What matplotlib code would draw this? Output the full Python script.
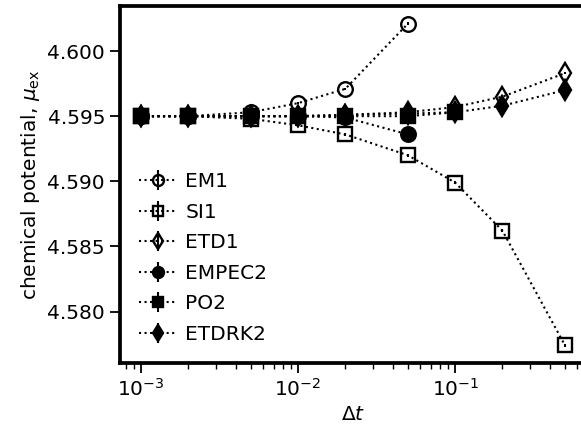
import matplotlib
matplotlib.use('Agg')
import matplotlib.pyplot as plt
from matplotlib.ticker import FormatStrFormatter

# time steps
dt = [1e-3, 2e-3, 5e-3, 1e-2, 2e-2, 5e-2, 0.1, 0.2, 0.5]

# chemical potential for each scheme
em1 = [4.5950, 4.5950, 4.5953, 4.5960, 4.5971, 4.6021]
si1 = [4.5950, 4.5950, 4.5948, 4.5943, 4.5936, 4.5920, 4.5899, 4.5862, 4.5774]
etd1 = [4.5950, 4.5950, 4.5950, 4.5950, 4.5951, 4.5953, 4.5957, 4.5965, 4.5983]
empec2 = [4.5950, 4.5950, 4.5950, 4.5950, 4.5949, 4.5936]
po2 = [4.5950, 4.5950, 4.5950, 4.5950, 4.5950, 4.5950, 4.5953]
etdrk2 = [4.5950, 4.5950, 4.5950, 4.5950, 4.5951, 4.5952, 4.5953, 4.5958, 4.5970]

# error estimate (tiny, mostly hidden behind markers)
err = 0.0001

series = [
    ('EM1', em1, 'o', 'none'),
    ('SI1', si1, 's', 'none'),
    ('ETD1', etd1, 'd', 'none'),
    ('EMPEC2', empec2, 'o', 'k'),
    ('PO2', po2, 's', 'k'),
    ('ETDRK2', etdrk2, 'd', 'k'),
]

fs = 14.5

fig = plt.figure(figsize=(5.81, 4.41), dpi=100)
ax = fig.add_axes([0.206, 0.177, 0.803, 0.809])

for name, vals, mk, fc in series:
    ax.errorbar(dt[:len(vals)], vals, yerr=[err] * len(vals), label=name,
                color='k', ls=':', lw=1.5, marker=mk, ms=10.5, mfc=fc,
                mec='k', mew=1.7, elinewidth=1.5, capsize=0)

ax.set_xscale('log')
ax.yaxis.set_major_formatter(FormatStrFormatter('%.3f'))
ax.set_yticks([4.580, 4.585, 4.590, 4.595, 4.600])

for s in ax.spines.values():
    s.set_linewidth(2.7)
ax.tick_params(which='major', length=7, width=1.3, labelsize=fs)
ax.tick_params(which='minor', length=4, width=1.0)

ax.set_xlabel(r'$\Delta t$', fontsize=fs)
ax.set_ylabel(r'chemical potential, $\mu_{\rm ex}$', fontsize=fs)

ax.legend(loc='lower left', frameon=False, fontsize=fs, markerscale=0.75,
          labelspacing=0.57, handlelength=1.9, handletextpad=0.4,
          borderaxespad=0.55)

fig.savefig('out.png', dpi=100)
